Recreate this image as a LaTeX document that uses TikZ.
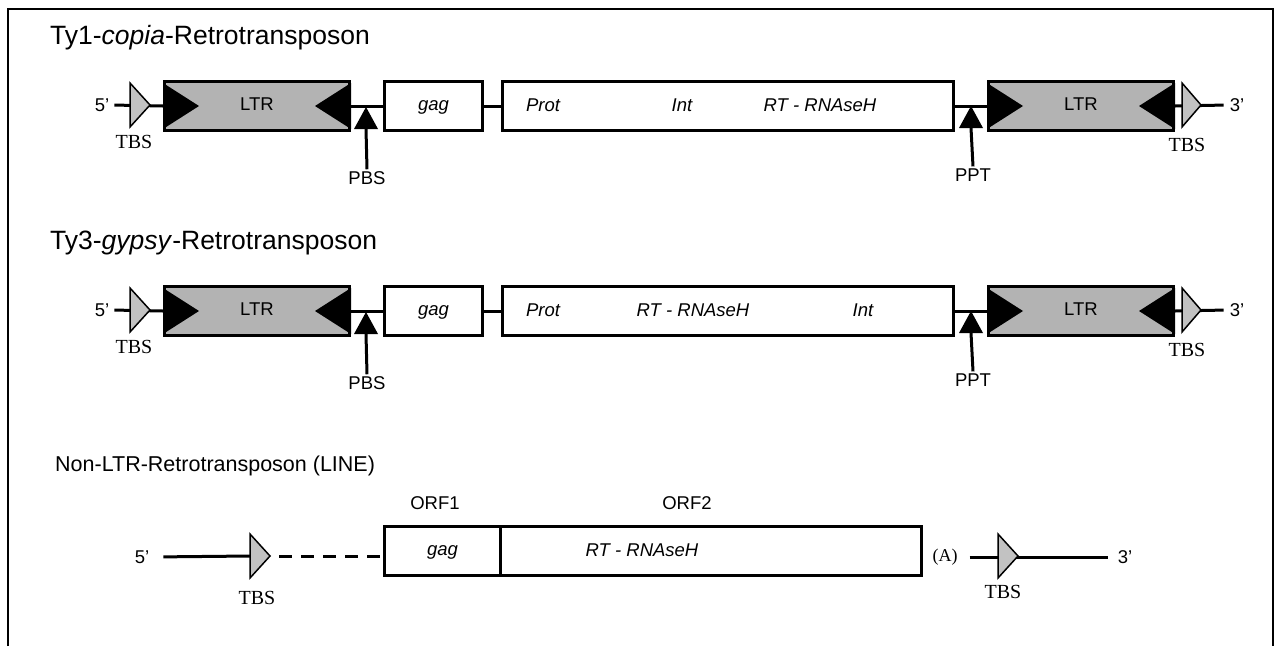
\documentclass[tikz,border=0pt]{standalone}
\usepackage{fontspec}
\setmainfont{Liberation Sans}
\newfontfamily\tmsfont{Liberation Serif}
\usetikzlibrary{positioning}
\definecolor{ltrgray}{HTML}{B3B3B3}
\definecolor{tbsgray}{HTML}{C2C2C2}

\tikzset{
  lab/.style={font=\fontsize{18.5}{20}\selectfont, inner sep=2pt},
  ital/.style={font=\fontsize{18.5}{20}\selectfont\itshape, inner sep=2pt,
    text height=13.3pt, text depth=4pt},
  tbslab/.style={font=\tmsfont\fontsize{20}{22}\selectfont, inner sep=1pt},
  title/.style={font=\fontsize{26.5}{30}\selectfont, inner sep=0pt, anchor=base west},
  backbone/.style={line width=3pt},
  ltrbox/.style={draw, line width=3pt, fill=ltrgray, minimum width=185pt,
    minimum height=49pt, inner sep=0pt, text height=13.3pt, text depth=4pt,
    font=\fontsize{18.5}{20}\selectfont},
  orfbox/.style={draw, line width=3pt, fill=white, minimum width=98pt,
    minimum height=49pt, inner sep=0pt, text height=13.3pt, text depth=4pt,
    font=\fontsize{18.5}{20}\selectfont\itshape},
  tbs/.style={draw, line width=1.5pt, fill=tbsgray, line join=miter},
}

\begin{document}
\begin{tikzpicture}[x=1pt,y=-1pt]
  \useasboundingbox (0,0) rectangle (1276,646);
  % open frame
  \draw[line width=2pt] (8,646) -- (8,9) -- (1273,9) -- (1273,646);

  % the two LTR retrotransposons
  \foreach \r/\Y/\n/\fam/\xi/\xr in {1/105/1/copia/682/820,2/310/3/gypsy/863/693} {
    \node[title] (title\r) at (50,\Y-61) {Ty\n-\textit{\fam}-Retrotransposon};
    \node[lab] (five\r) at (102,\Y) {5’};
    \node[lab] (three\r) at (1237,\Y) {3’};
    \node[ltrbox] (ltrL\r) at (257,\Y+1) {LTR};
    \node[orfbox] (gag\r) at (433.5,\Y+1) {gag};
    \node[orfbox, minimum width=451pt] (pol\r) at (728,\Y+1) {};
    \node[ltrbox] (ltrR\r) at (1081,\Y+1) {LTR};
    \node[ital] (prot\r) at (543,\Y+2) {Prot};
    \node[ital] (int\r) at (\xi,\Y+2) {Int};
    \node[ital] (rt\r) at (\xr,\Y+2) {RT - RNAseH};
    % backbone
    \draw[backbone, shorten <=3pt] (five\r.east) -- (ltrL\r.west);
    \draw[backbone] (ltrL\r.east) -- (gag\r.west);
    \draw[backbone] (gag\r.east) -- (pol\r.west);
    \draw[backbone] (pol\r.east) -- (ltrR\r.west);
    \draw[backbone, shorten >=4pt] (ltrR\r.east) -- (three\r.west);
    % terminal inverted repeats inside the LTRs
    \fill (ltrL\r.west) ++(0,-23) -- ++(36,23) -- ++(-36,23) -- cycle;
    \fill (ltrL\r.east) ++(0,-23) -- ++(-36,23) -- ++(36,23) -- cycle;
    \fill (ltrR\r.west) ++(0,-23) -- ++(36,23) -- ++(-36,23) -- cycle;
    \fill (ltrR\r.east) ++(0,-23) -- ++(-36,23) -- ++(36,23) -- cycle;
    % target site duplications
    \coordinate (tbsA\r) at (130,\Y);
    \coordinate (tbsB\r) at (1182,\Y);
    \draw[tbs] (tbsA\r) ++(0,-22) -- ++(20,22) -- ++(-20,22) -- cycle;
    \draw[tbs] (tbsB\r) ++(0,-22) -- ++(19,22) -- ++(-19,22) -- cycle;
    \node[tbslab] (tbsL\r) at (134,\Y+37) {TBS};
    \node[tbslab] (tbsR\r) at (1187,\Y+40) {TBS};
    % PBS and PPT
    \coordinate (pbsTip\r) at (366,\Y+2);
    \coordinate (pbsBase\r) at (366,\Y+24);
    \fill (pbsTip\r) -- ++(12,22) -- ++(-24,0) -- cycle;
    \node[lab] (pbs\r) at (367,\Y+73) {PBS};
    \draw[backbone] (pbs\r.north) -- (pbsBase\r);
    \coordinate (pptTip\r) at (971,\Y+1);
    \coordinate (pptBase\r) at (971,\Y+23);
    \fill (pptTip\r) -- ++(12,22) -- ++(-24,0) -- cycle;
    \node[lab] (ppt\r) at (973,\Y+70) {PPT};
    \draw[backbone] (ppt\r.north) -- (pptBase\r);
  }

  % non-LTR retrotransposon
  \node[title, font=\fontsize{21.5}{24}\selectfont] (title3) at (55,471) {Non-LTR-Retrotransposon (LINE)};
  \node[lab] (five3) at (142,557) {5’};
  \node[lab] (three3) at (1125,557) {3’};
  \node[orfbox, minimum width=116pt] (gag3) at (442.5,551) {gag};
  \node[orfbox, minimum width=421pt] (pol3) at (711,551) {};
  \node[ital] (rt3) at (642,552) {RT - RNAseH};
  \node[lab] (orf1) at (435,503) {ORF1};
  \node[lab] (orf2) at (687,503) {ORF2};
  \node[tbslab, font=\tmsfont\fontsize{18}{20}\selectfont] (polyA) at (945,557) {(A)};
  \coordinate (tbsA3) at (250,556);
  \coordinate (tbsAt3) at (270,556);
  \coordinate (tbsB3) at (998,556);
  \draw[backbone, shorten <=12pt] (five3.east) -- (tbsA3);
  \draw[backbone, dash pattern=on 13pt off 9pt, dash phase=13pt] (tbsAt3) -- (gag3.west |- tbsAt3);
  \draw[backbone, shorten <=11pt, shorten >=8pt] (polyA.east) -- (three3.west);
  \draw[tbs] (tbsA3) ++(0,-22) -- ++(20,22) -- ++(-20,22) -- cycle;
  \draw[tbs] (tbsB3) ++(0,-22) -- ++(20,22) -- ++(-20,22) -- cycle;
  \node[tbslab] (tbsL3) at (257,598) {TBS};
  \node[tbslab] (tbsR3) at (1003,592) {TBS};
\end{tikzpicture}
\end{document}
